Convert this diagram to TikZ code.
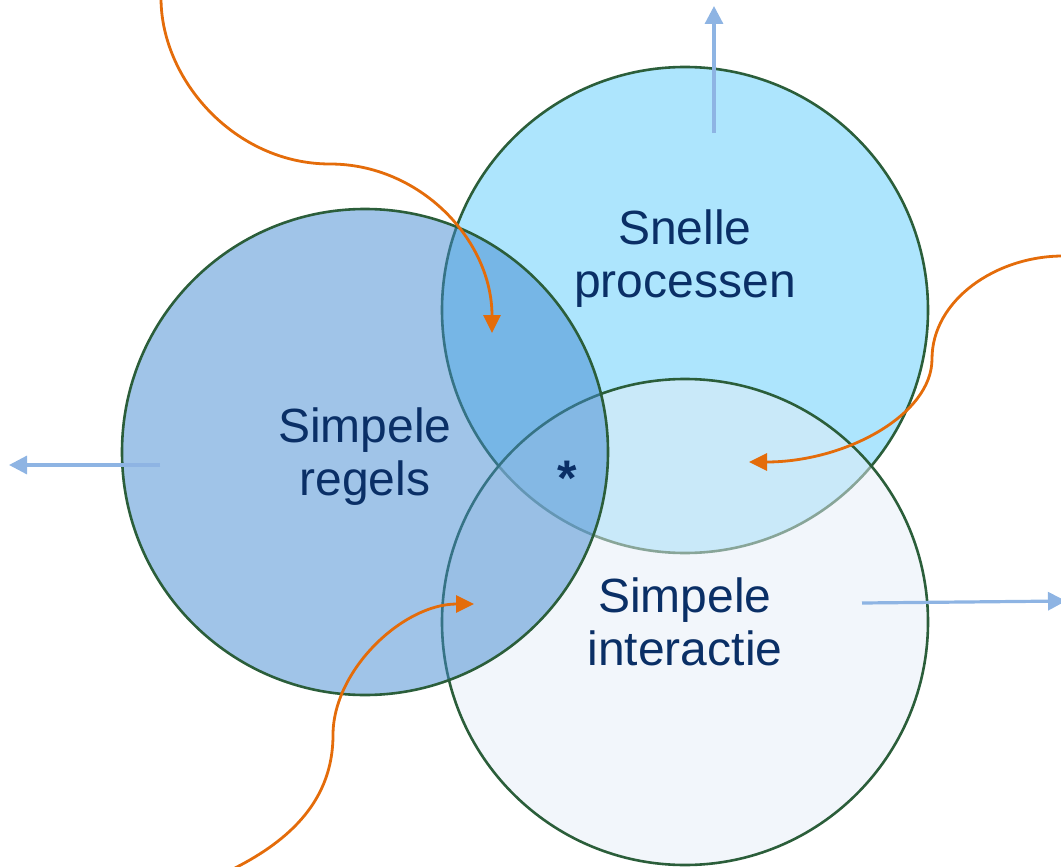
\documentclass[tikz,border=0pt]{standalone}
\usepackage{fontspec}
\setmainfont{Liberation Sans}
\usetikzlibrary{arrows.meta}
\definecolor{ringc}{HTML}{2B5E3A}
\definecolor{topfill}{HTML}{ADE5FD}
\definecolor{botfill}{HTML}{E5EDF7}
\definecolor{leftfill}{HTML}{4189D1}
\definecolor{txtc}{HTML}{0A2F66}
\definecolor{orangec}{HTML}{E46C0A}
\definecolor{bluec}{HTML}{8EB4E3}
\tikzset{
  ring/.style={circle, draw=ringc, line width=2.6pt, minimum size=486pt, inner sep=0pt},
  lbl/.style={text=txtc, font=\fontsize{48}{53}\selectfont, align=center, anchor=base, inner sep=0pt},
  orangearrow/.style={draw=orangec, line width=2.8pt, -{Triangle[length=18pt,width=17pt]}},
  bluearrow/.style={draw=bluec, line width=3.2pt, -{Triangle[length=18pt,width=18pt]}}
}
\begin{document}
\begin{tikzpicture}[x=1pt,y=-1pt]
\useasboundingbox (0,0) rectangle (1061,867);
\clip (0,0) rectangle (1061,867);
% circles
\node[ring, fill=topfill] (top) at (685,310) {};
\node[ring, fill=botfill, fill opacity=0.5] (bot) at (685,622) {};
\node[ring, fill=leftfill, fill opacity=0.5] (left) at (365,452) {};
% labels
\node[lbl] (ttop) at (685,297) {Snelle\\processen};
\node[lbl] (tleft) at (365,495) {Simpele\\regels};
\node[lbl] (tbot) at (685,665) {Simpele\\interactie};
\node[text=txtc, font=\fontsize{50}{50}\selectfont\bfseries, inner sep=0pt] (star) at (567,478) {*};
% blue arrows
\coordinate (bu0) at (714,133);
\coordinate (bu1) at (714,6);
\coordinate (bl0) at (160,465);
\coordinate (bl1) at (9,465);
\coordinate (br0) at (862,603);
\coordinate (br1) at (1066,601);
\draw[bluearrow] (bu0) -- (bu1);
\draw[bluearrow] (bl0) -- (bl1);
\draw[bluearrow] (br0) -- (br1);
% orange arrows
\coordinate (o1s) at (161,-2);
\coordinate (o1m) at (330,164);
\coordinate (o1e) at (492,333);
\draw[orangearrow] (o1s) .. controls (161,80) and (235,164) .. (o1m) .. controls (420,164) and (492,240) .. (o1e);
\coordinate (o2s) at (1063,256);
\coordinate (o2m) at (932,359);
\coordinate (o2e) at (749,462);
\draw[orangearrow] (o2s) .. controls (996,256) and (932,300) .. (o2m) .. controls (932,415) and (845,462) .. (o2e);
\coordinate (o3s) at (235,868);
\coordinate (o3m) at (333,735);
\coordinate (o3e) at (474,604);
\draw[orangearrow] (o3s) .. controls (290,840) and (333,800) .. (o3m) .. controls (333,670) and (403,604) .. (o3e);
\end{tikzpicture}
\end{document}
